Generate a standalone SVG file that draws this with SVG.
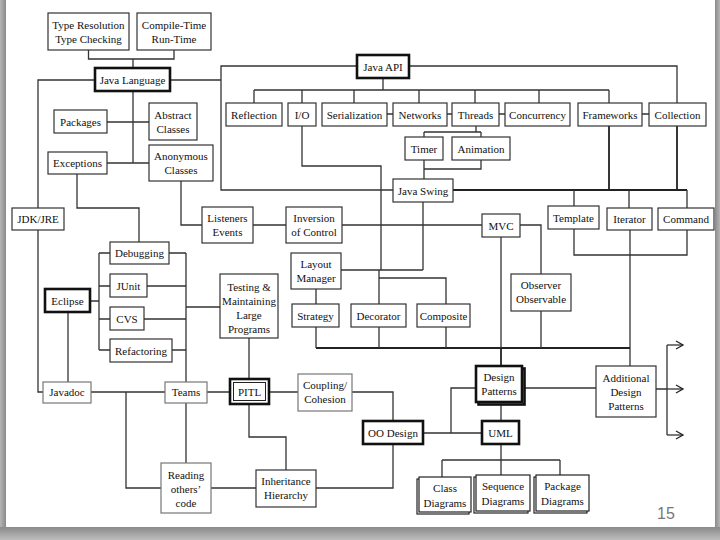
<svg xmlns="http://www.w3.org/2000/svg" width="720" height="540" viewBox="0 0 720 540">
<defs>
<linearGradient id="gl" x1="0" y1="0" x2="1" y2="0"><stop offset="0" stop-color="#b5b5b5"/><stop offset="1" stop-color="#8a8a8a"/></linearGradient>
<linearGradient id="gb" x1="0" y1="0" x2="0" y2="1"><stop offset="0" stop-color="#8a8a8a"/><stop offset="1" stop-color="#bdbdbd"/></linearGradient>
<linearGradient id="gr" x1="0" y1="0" x2="1" y2="0"><stop offset="0" stop-color="#8a8a8a"/><stop offset="1" stop-color="#b5b5b5"/></linearGradient>
<marker id="arr" markerWidth="10" markerHeight="10" refX="8" refY="5" orient="auto" markerUnits="userSpaceOnUse"><path d="M1,1 L8,5 L1,9" fill="none" stroke="#222" stroke-width="1.3"/></marker>
</defs>
<style>
.b{fill:#fff;stroke:#333;stroke-width:1.2}
.g{fill:#fff;stroke:#777;stroke-width:1.2}
.k{fill:#fff;stroke:#111;stroke-width:2.6}
.s{fill:#fff;stroke:#222;stroke-width:1.2}
text{font-family:"Liberation Serif","Times New Roman",serif;font-size:11px;fill:#111;text-anchor:middle}
#connectors path{fill:none;stroke:#333;stroke-width:1.3}
#connectors .h{stroke-width:1.8;stroke:#222}
</style>
<rect x="0" y="0" width="720" height="540" fill="#fff"/>
<rect x="0" y="0" width="6" height="540" fill="url(#gl)"/>
<rect x="715" y="0" width="5" height="540" fill="url(#gr)"/>
<rect x="0" y="527" width="720" height="13" fill="url(#gb)"/>

<g id="connectors">
<path d="M88.5,50 V59 H174 V50 M133,59 V68"/>
<path d="M133,91 V163 M107,122 H149 M107,163 H149"/>
<path d="M95,80 H38 V208 M38,230 V392 H43"/>
<path d="M170,80 H221 M357,66 H221 V190 H393"/>
<path d="M409,66 H677 V103"/>
<path d="M383,78 V90 M254,90 H609 M254,90 V103 M302,90 V103 M354,90 V103 M419,90 V103 M475,90 V103 M539,90 V103 M609,90 V103"/>
<path d="M387,114 H393 M447,114 H452 M499,114 H505 M642,114 H649"/>
<path d="M476,126 V132 M424,132 H481 M424,132 V137 M481,132 V137"/>
<path d="M424,160 V179 M481,160 V169 H424"/>
<path d="M302,126 V166 H381 V270"/>
<path class="h" d="M453,190 H687 M609,126 V190 M677,126 V190"/>
<path d="M574,190 V206 M629,190 V208 M687,190 V208"/>
<path d="M574,229 V255 H687 V230"/>
<path d="M630,230 V366"/>
<path class="h" d="M316,348 H630"/>
<path d="M316,327 V348 M379,327 V348 M446,327 V348 M541,311 V348 M501,237 V348"/>
<path class="h" d="M501,348 V366"/>
<path d="M316,289 V304 M341,270 H423 M423,202 V270"/>
<path d="M379,270 V304 M379,278 H446 V304"/>
<path d="M342,225 H482 M253,225 H286 M202,225 H181 V181"/>
<path d="M520,225 H541 V274"/>
<path d="M77,174 V208 H139 V242"/>
<path d="M90,301 H99 M99,253 V350 M99,253 H110 M99,286 H110 M99,319 H110 M99,350 H110"/>
<path d="M169,253 H186 M147,286 H186 M144,319 H186 M172,350 H186 M186,253 V382 M186,307 H220"/>
<path d="M68,312 V382"/>
<path d="M91,392 H165 M126,392 V488 H161"/>
<path d="M186,403 V463 M211,488 H256"/>
<path d="M207,392 H230 M249,338 V379 M249,404 V437 H286 V470"/>
<path d="M269,392 H298 M352,392 H393 V421 M316,488 H393 V444"/>
<path d="M423,433 H482 M451,433 V388 H476"/>
<path d="M501,403 V421 M522,388 H596"/>
<path d="M656,389 H667 M667,345 V435"/>
<path d="M667,345 H683" marker-end="url(#arr)"/>
<path d="M667,389 H683" marker-end="url(#arr)"/>
<path d="M667,435 H683" marker-end="url(#arr)"/>
<path d="M501,444 V460 M442,460 H560 M442,460 V477 M501,460 V475 M560,460 V475"/>
</g>

<g id="typeRes"><rect class="b" x="48" y="13" width="81" height="37"/><text x="88.5" y="28.5">Type Resolution</text><text x="88.5" y="42.5">Type Checking</text></g>
<g id="compileTime"><rect class="b" x="137" y="13" width="74" height="37"/><text x="174" y="28.5">Compile-Time</text><text x="174" y="42.5">Run-Time</text></g>
<g id="javaLanguage"><rect class="k" x="95" y="68" width="75" height="23"/><text x="132.5" y="83.5">Java Language</text></g>
<g id="javaAPI"><rect class="k" x="357" y="55" width="52" height="23"/><text x="383" y="70.5">Java API</text></g>
<g id="reflection"><rect class="b" x="226" y="103" width="56" height="23"/><text x="254" y="118.5">Reflection</text></g>
<g id="io"><rect class="b" x="288" y="103" width="28" height="23"/><text x="302" y="118.5">I/O</text></g>
<g id="serialization"><rect class="b" x="322" y="103" width="65" height="23"/><text x="354.5" y="118.5">Serialization</text></g>
<g id="networks"><rect class="b" x="393" y="103" width="54" height="23"/><text x="420" y="118.5">Networks</text></g>
<g id="threads"><rect class="b" x="452" y="103" width="47" height="23"/><text x="475.5" y="118.5">Threads</text></g>
<g id="concurrency"><rect class="b" x="505" y="103" width="65" height="23"/><text x="537.5" y="118.5">Concurrency</text></g>
<g id="frameworks"><rect class="b" x="578" y="103" width="64" height="23"/><text x="610" y="118.5">Frameworks</text></g>
<g id="collection"><rect class="b" x="649" y="103" width="57" height="23"/><text x="677.5" y="118.5">Collection</text></g>
<g id="timer"><rect class="b" x="405" y="137" width="38" height="23"/><text x="424" y="152.5">Timer</text></g>
<g id="animation"><rect class="b" x="452" y="137" width="58" height="23"/><text x="481" y="152.5">Animation</text></g>
<g id="javaSwing"><rect class="b" x="393" y="179" width="60" height="23"/><text x="423" y="194.5">Java Swing</text></g>
<g id="packages"><rect class="b" x="54" y="110" width="53" height="23"/><text x="80.5" y="125.5">Packages</text></g>
<g id="abstractClasses"><rect class="b" x="149" y="103" width="48" height="37"/><text x="173" y="118.5">Abstract</text><text x="173" y="132.5">Classes</text></g>
<g id="exceptions"><rect class="b" x="48" y="152" width="59" height="22"/><text x="77.5" y="167">Exceptions</text></g>
<g id="anonymousClasses"><rect class="b" x="149" y="145" width="64" height="36"/><text x="181" y="160">Anonymous</text><text x="181" y="174">Classes</text></g>
<g id="jdkJre"><rect class="b" x="12" y="208" width="52" height="22"/><text x="38" y="223">JDK/JRE</text></g>
<g id="listeners"><rect class="b" x="202" y="207" width="51" height="36"/><text x="227.5" y="222">Listeners</text><text x="227.5" y="236">Events</text></g>
<g id="inversion"><rect class="b" x="286" y="207" width="56" height="36"/><text x="314" y="222">Inversion</text><text x="314" y="236">of Control</text></g>
<g id="mvc"><rect class="b" x="482" y="214" width="38" height="23"/><text x="501" y="229.5">MVC</text></g>
<g id="template"><rect class="b" x="548" y="206" width="51" height="23"/><text x="573.5" y="221.5">Template</text></g>
<g id="iterator"><rect class="b" x="607" y="208" width="45" height="22"/><text x="629.5" y="223">Iterator</text></g>
<g id="command"><rect class="b" x="658" y="208" width="56" height="22"/><text x="686" y="223">Command</text></g>
<g id="layoutManager"><rect class="b" x="291" y="253" width="50" height="36"/><text x="316" y="268">Layout</text><text x="316" y="282">Manager</text></g>
<g id="strategy"><rect class="b" x="292" y="304" width="47" height="23"/><text x="315.5" y="319.5">Strategy</text></g>
<g id="decorator"><rect class="b" x="351" y="304" width="55" height="23"/><text x="378.5" y="319.5">Decorator</text></g>
<g id="composite"><rect class="b" x="417" y="304" width="53" height="23"/><text x="443.5" y="319.5">Composite</text></g>
<g id="observer"><rect class="b" x="511" y="274" width="60" height="37"/><text x="541" y="289">Observer</text><text x="541" y="303">Observable</text></g>
<g id="debugging"><rect class="b" x="110" y="242" width="59" height="22"/><text x="139.5" y="257">Debugging</text></g>
<g id="junit"><rect class="b" x="110" y="274" width="37" height="23"/><text x="128.5" y="289.5">JUnit</text></g>
<g id="cvs"><rect class="b" x="110" y="307" width="34" height="23"/><text x="127" y="322.5">CVS</text></g>
<g id="refactoring"><rect class="b" x="110" y="339" width="62" height="23"/><text x="141" y="354.5">Refactoring</text></g>
<g id="eclipse"><rect class="k" x="45" y="289" width="45" height="23"/><text x="67.5" y="304.5">Eclipse</text></g>
<g id="testing"><rect class="b" x="220" y="274" width="58" height="64"/><text x="249" y="291">Testing &amp;</text><text x="249" y="305">Maintaining</text><text x="249" y="319">Large</text><text x="249" y="333">Programs</text></g>
<g id="javadoc"><rect class="g" x="43" y="382" width="48" height="21"/><text x="67" y="396">Javadoc</text></g>
<g id="teams"><rect class="g" x="165" y="382" width="42" height="21"/><text x="186" y="396">Teams</text></g>
<g id="pitl"><rect class="k" x="230" y="379" width="39" height="25"/><rect fill="none" stroke="#222" stroke-width="1" x="233.5" y="382.5" width="32" height="18"/><text x="249.5" y="395.5">PITL</text></g>
<g id="coupling"><rect class="g" x="298" y="374" width="54" height="37"/><text x="325" y="389">Coupling/</text><text x="325" y="403">Cohesion</text></g>
<g id="reading"><rect class="g" x="161" y="463" width="50" height="50"/><text x="186" y="479">Reading</text><text x="186" y="493">others’</text><text x="186" y="507">code</text></g>
<g id="inheritance"><rect class="b" x="256" y="470" width="60" height="37"/><text x="286" y="485">Inheritance</text><text x="286" y="499">Hierarchy</text></g>
<g id="ooDesign"><rect class="k" x="363" y="421" width="60" height="23"/><text x="393" y="436.5">OO Design</text></g>
<g id="designPatterns"><rect class="k" x="478.5" y="368.5" width="46" height="36"/><rect class="k" x="476" y="366" width="46" height="36"/><text x="499" y="381">Design</text><text x="499" y="395">Patterns</text></g>
<g id="uml"><rect class="k" x="482" y="421" width="37" height="23"/><text x="500.5" y="436.5">UML</text></g>
<g id="additional"><rect class="b" x="596" y="366" width="60" height="51"/><text x="626" y="382">Additional</text><text x="626" y="396">Design</text><text x="626" y="410">Patterns</text></g>
<g id="classDiagrams"><rect class="s" x="417" y="479" width="52" height="35"/><rect class="s" x="419" y="477" width="52" height="35"/><text x="445" y="492">Class</text><text x="445" y="507">Diagrams</text></g>
<g id="sequenceDiagrams"><rect class="s" x="474" y="477" width="54" height="36"/><rect class="s" x="476" y="475" width="54" height="36"/><text x="503" y="490">Sequence</text><text x="503" y="505">Diagrams</text></g>
<g id="packageDiagrams"><rect class="s" x="534" y="477" width="53" height="36"/><rect class="s" x="536" y="475" width="53" height="36"/><text x="562.5" y="490">Package</text><text x="562.5" y="505">Diagrams</text></g>
<text x="666" y="519" style="font-family:'Liberation Sans',Arial,sans-serif;font-size:16px;fill:#777">15</text>
</svg>
